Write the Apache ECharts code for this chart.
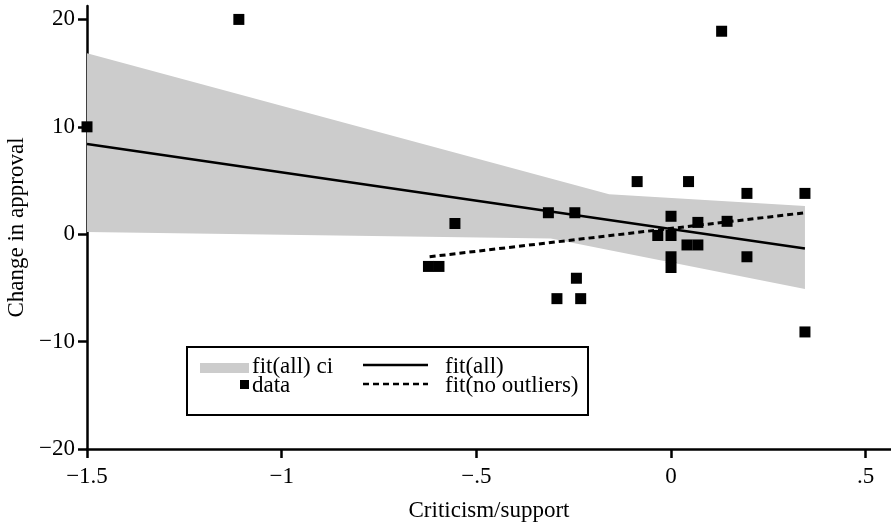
<!DOCTYPE html>
<html>
<head>
<meta charset="utf-8">
<script src="https://cdn.jsdelivr.net/npm/echarts@6/dist/echarts.min.js"></script>
<style>
html,body{margin:0;padding:0;background:#fff;}
#chart{width:891px;height:525px;}
</style>
</head>
<body>
<div id="chart"></div>
<script>
// ---- data ----
const pointX = [-1.11, -1.5, -0.555, -0.623, -0.596, -0.315, -0.247, -0.243, -0.293, -0.232, -0.087, 0.045, 0.195, 0.344, 0.0, 0.069, 0.144, -0.034, 0.0, 0.041, 0.069, 0.195, 0.0, 0.0, 0.344, 0.130];
const pointY = [20, 10, 1, -3, -3, 2, 2, -4.1, -6, -6, 4.9, 4.9, 3.8, 3.8, 1.67, 1.1, 1.2, -0.12, -0.12, -1.0, -1.0, -2.1, -2.1, -3.1, -9.1, 18.9];

const fitAllX = [-1.5, 0.344];
const fitAllY = [8.4, -1.33];

const fitNoOutX = [-0.62, 0.344];
const fitNoOutY = [-2.1, 2.0];

const ciUpperX = [-1.5, -0.159, 0.344];
const ciUpperY = [16.84, 3.72, 2.63];
const ciLowerX = [-1.5, -0.309, 0.344];
const ciLowerY = [0.2, -0.4, -5.1];

const xTicks = [-1.5, -1, -0.5, 0, 0.5];
const yTicks = [-20, -10, 0, 10, 20];

const legendLabels = ['fit(all) ci', 'fit(all)', 'data', 'fit(no outliers)'];
const xTitle = 'Criticism/support';
const yTitle = 'Change in approval';

// ---- helpers ----
const FONT = "'Liberation Serif', 'Times New Roman', serif";
const FS = 23;
const zip = (a, b) => a.map((v, i) => [v, b[i]]);
function fmt(v) {
  if (Math.abs(v) < 1e-9) return '0';
  let s = String(Math.abs(v)).replace(/^0\./, '.');
  return (v < 0 ? '\u2212' : '') + s;
}

const chart = echarts.init(document.getElementById('chart'), null, {renderer: 'canvas'});

const axisCommon = {
  axisLine: {show: true, onZero: false, lineStyle: {color: '#000', width: 2.5}},
  axisTick: {show: true, length: 9, lineStyle: {color: '#000', width: 2.5}},
  splitLine: {show: false},
  nameTextStyle: {fontFamily: FONT, fontSize: FS, color: '#000'}
};

const option = {
  animation: false,
  backgroundColor: '#fff',
  grid: {left: 87, right: 0, top: 6, bottom: 76, containLabel: false, outerBoundsMode: 'none'},
  xAxis: Object.assign({}, axisCommon, {
    type: 'value', min: -1.5, max: 0.565, interval: 0.5,
    name: xTitle, nameLocation: 'middle', nameGap: 50,
    axisTick: Object.assign({}, axisCommon.axisTick, {customValues: xTicks}),
    axisLabel: {customValues: xTicks, formatter: fmt, fontFamily: FONT, fontSize: FS, color: '#000', margin: 16}
  }),
  yAxis: Object.assign({}, axisCommon, {
    type: 'value', min: -20, max: 21.25, interval: 10,
    name: yTitle, nameLocation: 'middle', nameGap: 59, nameRotate: 90,
    axisTick: Object.assign({}, axisCommon.axisTick, {customValues: yTicks}),
    axisLabel: {customValues: yTicks, formatter: fmt, fontFamily: FONT, fontSize: FS, color: '#000', margin: 12}
  }),
  series: [
    {
      name: legendLabels[0],
      type: 'custom',
      z: 1,
      silent: true,
      data: [0],
      renderItem: function (params, api) {
        const pts = [];
        zip(ciUpperX, ciUpperY).forEach(p => pts.push(api.coord(p)));
        zip(ciLowerX, ciLowerY).reverse().forEach(p => pts.push(api.coord(p)));
        return {type: 'polygon', shape: {points: pts}, style: {fill: '#cccccc', stroke: null}};
      }
    },
    {
      name: legendLabels[1],
      type: 'line', z: 2, symbol: 'none',
      data: zip(fitAllX, fitAllY),
      lineStyle: {color: '#000', width: 2.5}
    },
    {
      name: legendLabels[2],
      type: 'scatter', z: 3, symbol: 'rect', symbolSize: 11,
      data: zip(pointX, pointY),
      itemStyle: {color: '#000', opacity: 1}
    },
    {
      name: legendLabels[3],
      type: 'line', z: 4, symbol: 'none',
      data: zip(fitNoOutX, fitNoOutY),
      lineStyle: {color: '#000', width: 3, type: [6, 4]}
    }
  ],
  graphic: [
    {type: 'rect', z: 10, shape: {x: 187, y: 347, width: 401, height: 68},
     style: {fill: '#fff', stroke: '#000', lineWidth: 2}},
    {type: 'rect', z: 11, shape: {x: 200, y: 363, width: 49, height: 10}, style: {fill: '#cccccc'}},
    {type: 'text', z: 11, x: 252, y: 367, style: {text: legendLabels[0], font: FS + 'px ' + FONT, fill: '#000', textVerticalAlign: 'middle'}},
    {type: 'line', z: 11, shape: {x1: 363, y1: 365, x2: 428, y2: 365}, style: {stroke: '#000', lineWidth: 2.5}},
    {type: 'text', z: 11, x: 445, y: 367, style: {text: legendLabels[1], font: FS + 'px ' + FONT, fill: '#000', textVerticalAlign: 'middle'}},
    {type: 'rect', z: 11, shape: {x: 240, y: 380, width: 9, height: 9}, style: {fill: '#000'}},
    {type: 'text', z: 11, x: 252, y: 386, style: {text: legendLabels[2], font: FS + 'px ' + FONT, fill: '#000', textVerticalAlign: 'middle'}},
    {type: 'line', z: 11, shape: {x1: 363, y1: 384, x2: 428, y2: 384}, style: {stroke: '#000', lineWidth: 2.5, lineDash: [6, 4]}},
    {type: 'text', z: 11, x: 445, y: 386, style: {text: legendLabels[3], font: FS + 'px ' + FONT, fill: '#000', textVerticalAlign: 'middle'}}
  ]
};
chart.setOption(option);
</script>
</body>
</html>
